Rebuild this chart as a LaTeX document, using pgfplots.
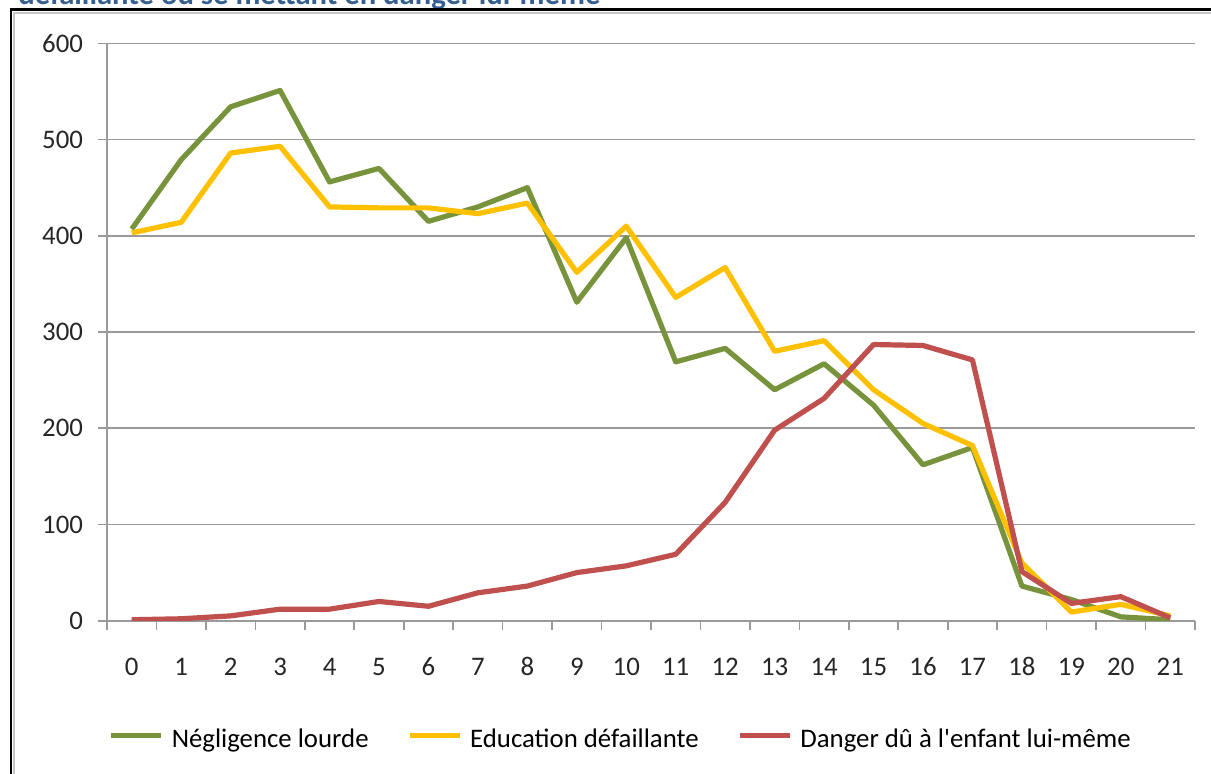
\documentclass[border=0pt]{standalone}
\usepackage{fontspec}
\setmainfont{Carlito}
\usepackage{pgfplots}
\pgfplotsset{compat=1.18}
\usepackage{pgfplotstable}
\definecolor{cgreen}{HTML}{77933C}
\definecolor{cyellow}{HTML}{FFC000}
\definecolor{cred}{HTML}{C0504D}
\definecolor{cgrid}{HTML}{9A9A9A}
\definecolor{ctitle}{HTML}{365F91}
\pgfplotstableread{
x neg edu dan
0 407 403 1
1 479 414 2
2 534 486 5
3 551 493 12
4 456 430 12
5 470 429 20
6 415 429 15
7 430 423 29
8 450 434 36
9 331 362 50
10 398 410 57
11 269 336 69
12 283 367 123
13 240 280 198
14 267 291 231
15 224 240 287
16 162 205 286
17 180 182 271
18 36 60 51
19 22 9 18
20 4 17 25
21 1 5 3
}\datatable
\begin{document}
\begin{tikzpicture}[x=1pt,y=1pt]
\useasboundingbox (0,0) rectangle (605.5,386.5);
\clip (0,0) rectangle (605.5,386.5);
\node[anchor=base west, inner sep=0, text=ctitle, font=\fontsize{14}{16}\selectfont\bfseries] at (9,384.2) {\resizebox{291pt}{!}{défaillante ou se mettant en danger lui-même}};
\draw[gray!45, line width=1pt] (6.8,-1) -- (6.8,380.2) -- (607,380.2);
\draw[black, line width=1.3pt] (5.4,-1) -- (5.4,381.6) -- (607,381.6);
\begin{axis}[
  at={(53.5pt,76.15pt)}, anchor=south west,
  scale only axis, width=544pt, height=288.7pt,
  xmin=-0.5, xmax=21.5, ymin=0, ymax=600,
  axis x line=bottom, axis y line=left,
  axis line style={-, draw=cgrid, line width=0.8pt},
  xtick={0,...,21},
  minor xtick={-0.5,0.5,...,21.5},
  ytick={0,100,...,600},
  tick align=outside,
  major tick length=4.5pt, minor tick length=4.5pt,
  major x tick style={draw=none},
  every tick/.style={draw=cgrid, line width=0.8pt},
  minor x tick style={draw=cgrid, line width=0.8pt},
  major y tick style={draw=cgrid, line width=0.8pt},
  ymajorgrids, major grid style={draw=cgrid, line width=0.8pt},
  tick label style={font=\fontsize{13.4}{16}\selectfont, text=black!85},
  /pgf/number format/assume math mode=true,
  /pgf/number format/1000 sep={},
  xticklabel style={anchor=base, yshift=-23pt},
  yticklabel style={xshift=-4pt},
  legend columns=3,
  legend style={at={(0.4712,-0.2066)}, anchor=center, draw=none, fill=none,
    font=\fontsize{13.4}{16}\selectfont, inner sep=0pt,
    /tikz/every odd column/.append style={column sep=4pt},
    /tikz/every even column/.append style={column sep=19.2pt},
    nodes={inner sep=0pt}},
  legend image code/.code={\draw[#1] (0pt,0.5ex) -- (25pt,0.5ex);},
  line join=round,
]
\addplot[cgreen, line width=2.6pt] table[x=x, y=neg] {\datatable};
\addlegendentry{Négligence lourde}
\addplot[cyellow, line width=2.6pt] table[x=x, y=edu] {\datatable};
\addlegendentry{Education défaillante}
\addplot[cred, line width=2.6pt] table[x=x, y=dan] {\datatable};
\addlegendentry{Danger dû à l\textquotesingle enfant lui-même}
\end{axis}
\end{tikzpicture}
\end{document}
